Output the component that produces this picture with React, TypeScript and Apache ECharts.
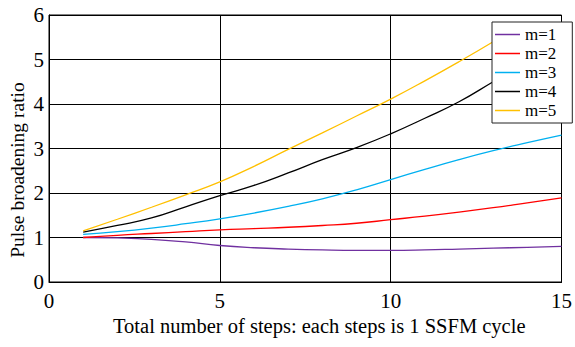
import React, { useEffect, useRef } from "react";
import * as echarts from "echarts";

const steps = [1, 2, 3, 4, 5, 6, 7, 8, 9, 10, 11, 12, 13, 14, 15];
const m1 = [1.0, 0.99, 0.96, 0.9, 0.82, 0.77, 0.74, 0.72, 0.71, 0.71, 0.72, 0.74, 0.76, 0.78, 0.8];
const m2 = [1.0, 1.05, 1.09, 1.13, 1.17, 1.2, 1.23, 1.27, 1.32, 1.4, 1.48, 1.57, 1.67, 1.78, 1.89];
const m3 = [1.07, 1.13, 1.21, 1.31, 1.42, 1.55, 1.7, 1.87, 2.07, 2.3, 2.53, 2.75, 2.95, 3.13, 3.3];
const m4 = [1.12, 1.27, 1.44, 1.69, 1.94, 2.17, 2.45, 2.75, 3.02, 3.33, 3.68, 4.05, 4.5, 4.95];
const m5 = [1.15, 1.41, 1.68, 1.96, 2.25, 2.6, 2.98, 3.35, 3.73, 4.11, 4.52, 4.95, 5.4];
const seriesNames = ["m=1", "m=2", "m=3", "m=4", "m=5"];
const seriesColors = ["#7030A0", "#FF0000", "#00B0F0", "#000000", "#FFC000"];
const xTitle = "Total number of steps: each steps is 1 SSFM cycle";
const yTitle = "Pulse broadening ratio";

const FONT = "'Liberation Serif', 'Times New Roman', Times, serif";

export default function App() {
  const ref = useRef<HTMLDivElement>(null);
  useEffect(() => {
    if (!ref.current) return;
    const chart = echarts.init(ref.current, undefined, { renderer: "svg" });
    const all = [m1, m2, m3, m4, m5];
    chart.setOption({
      animation: false,
      textStyle: { fontFamily: FONT },
      grid: {
        left: 49,
        right: 3,
        top: 15,
        bottom: 65,
        show: true,
        borderColor: "#000",
        borderWidth: 1,
      },
      xAxis: {
        type: "value",
        min: 0,
        max: 15,
        interval: 5,
        axisLine: { show: true, lineStyle: { color: "#000", width: 1 } },
        axisTick: { show: false },
        axisLabel: { color: "#000", fontSize: 21, fontFamily: FONT, margin: 8 },
        splitLine: { show: true, lineStyle: { color: "#000", width: 1 } },
      },
      yAxis: {
        type: "value",
        min: 0,
        max: 6,
        interval: 1,
        axisLine: { show: true, lineStyle: { color: "#000", width: 1 } },
        axisTick: { show: false },
        axisLabel: { color: "#000", fontSize: 21, fontFamily: FONT, margin: 5 },
        splitLine: { show: true, lineStyle: { color: "#000", width: 1 } },
      },
      legend: {
        orient: "vertical",
        left: 492,
        top: 22,
        padding: [4, 16, 4, 3],
        backgroundColor: "#fff",
        borderColor: "#222",
        borderWidth: 1,
        icon: "rect",
        itemWidth: 25,
        itemHeight: 1.5,
        itemGap: 2,
        textStyle: { color: "#000", fontSize: 17, fontFamily: FONT, lineHeight: 14 },
        data: seriesNames,
      },
      series: all.map((vals, i) => ({
        name: seriesNames[i],
        type: "line",
        data: vals.map((v, j) => [steps[j], v]),
        smooth: true,
        symbol: "none",
        lineStyle: { color: seriesColors[i], width: 1.3 },
        itemStyle: { color: seriesColors[i] },
      })),
      graphic: [
        {
          type: "text",
          left: 113,
          top: 315,
          style: { text: xTitle, fontSize: 20.5, fontFamily: FONT, fill: "#000" },
        },
        {
          type: "text",
          x: 17,
          y: 170,
          rotation: Math.PI / 2,
          style: {
            text: yTitle,
            fontSize: 19.5,
            fontFamily: FONT,
            fill: "#000",
            align: "center",
            verticalAlign: "middle",
          },
        },
      ],
    });
    return () => chart.dispose();
  }, []);
  return (
    <div
      ref={ref}
      style={{ position: "absolute", left: 0, top: 0, width: 575, height: 347 }}
    />
  );
}
